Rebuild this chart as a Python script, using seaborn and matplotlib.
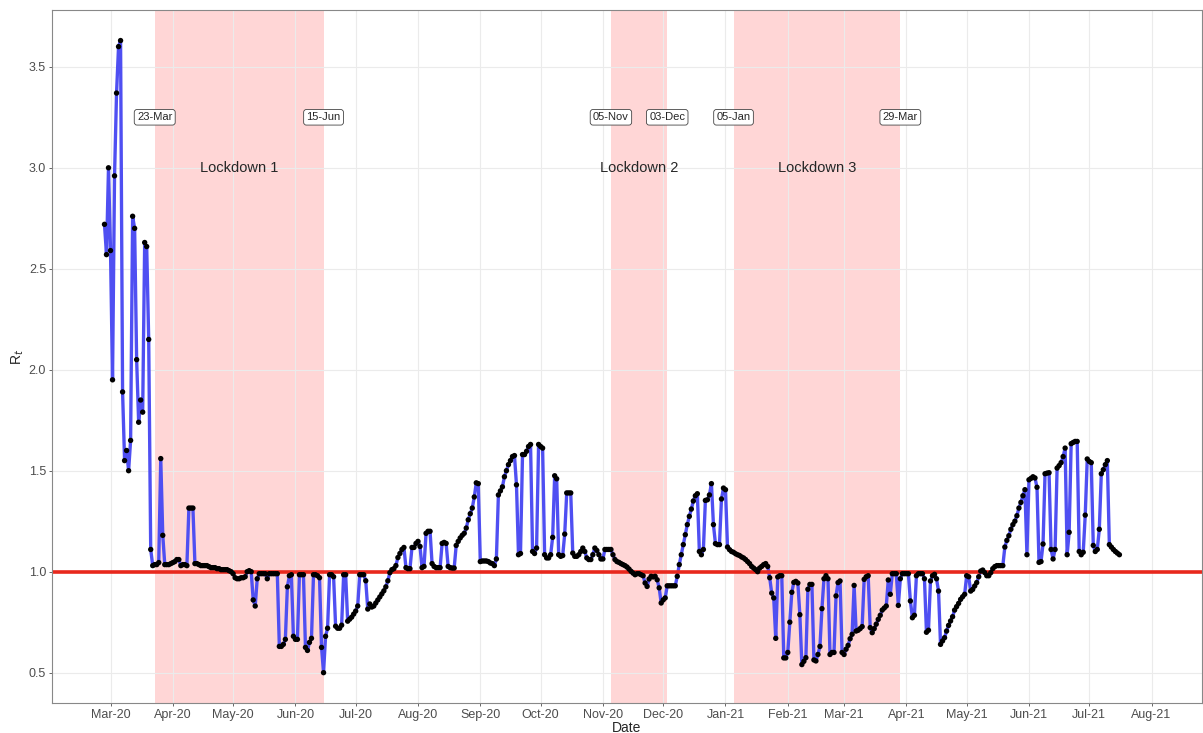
import pandas as pd
import seaborn as sns
import matplotlib.pyplot as plt
import matplotlib.dates as mdates

# daily R_t estimates (27 Feb 2020 onwards)
rt_feb_apr20 = [2.72, 2.57, 3.00, 2.59, 1.95, 2.96, 3.37, 3.60, 3.63, 1.89,
                1.55, 1.60, 1.50, 1.65, 2.76, 2.70, 2.05, 1.74, 1.85, 1.79,
                2.63, 2.61, 2.15, 1.11, 1.03, 1.035, 1.035, 1.045, 1.56, 1.18,
                1.035, 1.035, 1.035, 1.04, 1.045, 1.05, 1.06, 1.06, 1.03, 1.035,
                1.035, 1.03, 1.315, 1.315, 1.315]
rt_apr_jun20 = [1.04, 1.04, 1.035, 1.03, 1.03, 1.03, 1.03, 1.025, 1.02, 1.02,
                1.02, 1.015, 1.015, 1.01, 1.01, 1.01, 1.01, 1.005, 1.0, 0.99,
                0.97, 0.965, 0.965, 0.97, 0.97, 0.975, 1.0, 1.005, 1.0, 0.86,
                0.83, 0.965, 0.99, 0.99, 0.99, 0.99, 0.965, 0.99, 0.99, 0.99,
                0.99, 0.99, 0.63, 0.63, 0.64, 0.665, 0.925, 0.98, 0.985, 0.68]
rt_jun_jul20 = [0.665, 0.665, 0.985, 0.985, 0.985, 0.625, 0.61, 0.65, 0.67, 0.985,
                0.985, 0.98, 0.97, 0.625, 0.50, 0.68, 0.72, 0.985, 0.985, 0.975,
                0.73, 0.72, 0.72, 0.735, 0.985, 0.985, 0.755, 0.765, 0.775, 0.79,
                0.805, 0.83, 0.985, 0.985, 0.985, 0.955, 0.815, 0.84, 0.825, 0.83,
                0.845, 0.86, 0.875, 0.89, 0.905, 0.925, 0.955, 0.995, 1.01, 1.015]
rt_jul_sep20 = [1.03, 1.07, 1.09, 1.11, 1.12, 1.02, 1.015, 1.015, 1.12, 1.12,
                1.14, 1.15, 1.125, 1.02, 1.026, 1.19, 1.20, 1.20, 1.04, 1.026,
                1.02, 1.02, 1.02, 1.14, 1.145, 1.14, 1.026, 1.02, 1.018, 1.018,
                1.13, 1.15, 1.167, 1.18, 1.19, 1.216, 1.257, 1.287, 1.315, 1.37,
                1.44, 1.436, 1.05, 1.053, 1.053, 1.053, 1.05, 1.043, 1.04]
rt_sep_oct20 = [1.03, 1.063, 1.38, 1.40, 1.42, 1.47, 1.50, 1.53, 1.55, 1.57,
                1.575, 1.43, 1.084, 1.09, 1.58, 1.58, 1.596, 1.62, 1.63, 1.10,
                1.09, 1.117, 1.63, 1.62, 1.612, 1.084, 1.068, 1.068, 1.084, 1.17,
                1.475, 1.46, 1.084, 1.076, 1.08, 1.186, 1.39, 1.39, 1.39, 1.092,
                1.076, 1.076, 1.084, 1.10, 1.117, 1.10, 1.068, 1.06, 1.06, 1.084,
                1.117, 1.105, 1.084, 1.063, 1.063]
rt_nov_dec20 = [1.11, 1.11, 1.11, 1.11, 1.084, 1.06, 1.05, 1.046, 1.04, 1.035,
                1.03, 1.023, 1.013, 1.002, 0.993, 0.985, 0.99, 0.99, 0.985, 0.98,
                0.944, 0.927, 0.964, 0.977, 0.974, 0.977, 0.96, 0.92, 0.845, 0.86,
                0.87, 0.93, 0.93, 0.93, 0.93, 0.93, 0.977, 1.035, 1.084, 1.134,
                1.183, 1.233, 1.274, 1.31, 1.35, 1.376, 1.386]
rt_dec20_feb21 = [1.10, 1.084, 1.11, 1.353, 1.356, 1.38, 1.436, 1.233, 1.139, 1.134,
                  1.134, 1.36, 1.414, 1.406, 1.122, 1.109, 1.10, 1.096, 1.089, 1.084,
                  1.08, 1.073, 1.068, 1.06, 1.05, 1.04, 1.026, 1.018, 1.01, 1.0,
                  1.018, 1.026, 1.035, 1.04, 1.026, 0.97, 0.894, 0.87, 0.67, 0.974,
                  0.98, 0.98, 0.573, 0.573, 0.60, 0.75, 0.898, 0.947, 0.952, 0.944,
                  0.787, 0.54, 0.556]
rt_feb_mar21 = [0.574, 0.913, 0.937, 0.937, 0.563, 0.558, 0.59, 0.63, 0.817, 0.965,
                0.98, 0.965, 0.59, 0.60, 0.60, 0.88, 0.946, 0.954, 0.60, 0.59,
                0.616, 0.635, 0.668, 0.69, 0.932, 0.706, 0.71, 0.718, 0.728, 0.962,
                0.975, 0.98, 0.723, 0.698, 0.718, 0.74, 0.764, 0.784, 0.81, 0.82,
                0.83, 0.959, 0.888, 0.99, 0.99, 0.99]
rt_apr_may21 = [0.833, 0.965, 0.99, 0.99, 0.99, 0.99, 0.855, 0.772, 0.784, 0.98,
                0.99, 0.99, 0.99, 0.965, 0.70, 0.71, 0.954, 0.98, 0.987, 0.965,
                0.904, 0.64, 0.657, 0.673, 0.706, 0.734, 0.756, 0.777, 0.81, 0.827,
                0.843, 0.863, 0.876, 0.888, 0.98, 0.975, 0.904, 0.912, 0.929, 0.946,
                0.975, 1.003, 1.008, 0.995, 0.98, 0.98, 0.995, 1.015, 1.025, 1.03,
                1.03, 1.03, 1.03]
rt_may_jul21 = [1.122, 1.155, 1.178, 1.21, 1.233, 1.25, 1.277, 1.315, 1.343, 1.376,
                1.406, 1.084, 1.455, 1.462, 1.47, 1.464, 1.418, 1.046, 1.05, 1.137,
                1.485, 1.488, 1.49, 1.11, 1.063, 1.11, 1.513, 1.525, 1.54, 1.57,
                1.612, 1.084, 1.195, 1.634, 1.64, 1.645, 1.645, 1.10, 1.084, 1.096,
                1.28, 1.558, 1.546, 1.54, 1.13, 1.10, 1.11, 1.21, 1.485, 1.505,
                1.53, 1.55, 1.134, 1.122, 1.11, 1.10, 1.092, 1.084]

lockdown_start = ["2020-03-23", "2020-11-05", "2021-01-05"]
lockdown_end = ["2020-06-15", "2020-12-03", "2021-03-29"]
lockdown_names = ["Lockdown 1", "Lockdown 2", "Lockdown 3"]

rt = (rt_feb_apr20 + rt_apr_jun20 + rt_jun_jul20 + rt_jul_sep20 + rt_sep_oct20
      + rt_nov_dec20 + rt_dec20_feb21 + rt_feb_mar21 + rt_apr_may21 + rt_may_jul21)
df = pd.DataFrame({
    "date": pd.date_range("2020-02-27", periods=len(rt), freq="D"),
    "rt": rt,
})

sns.set_theme(style="whitegrid")
plt.rcParams["font.family"] = ["Liberation Sans", "DejaVu Sans"]

fig, ax = plt.subplots(figsize=(12.03, 7.33), dpi=100)
fig.subplots_adjust(left=0.043, right=0.999, bottom=0.041, top=0.986)

# lockdown bands
for start, end, name in zip(lockdown_start, lockdown_end, lockdown_names):
    s, e = pd.Timestamp(start), pd.Timestamp(end)
    ax.axvspan(s, e, color="#ff0000", alpha=0.16, lw=0, zorder=0.5)
    ax.text(s + (e - s) / 2, 3.0, name, ha="center", va="center", fontsize=10.5)

sns.lineplot(data=df, x="date", y="rt", color="#4f4ff2", lw=2.4, ax=ax, zorder=2)
ax.axhline(1.0, color="#e8281d", lw=2.6, zorder=2.5)
sns.scatterplot(data=df, x="date", y="rt", color="black", s=15, edgecolor="none",
                ax=ax, zorder=3)

for d in lockdown_start + lockdown_end:
    t = pd.Timestamp(d)
    ax.text(t, 3.25, t.strftime("%d-%b"), ha="center", va="center", fontsize=8,
            bbox=dict(boxstyle="round,pad=0.25", fc="white", ec="#444444", lw=0.6),
            zorder=4)

ax.set_xlim(pd.Timestamp("2020-01-31 18:00"), pd.Timestamp("2021-08-26"))
ax.set_ylim(0.35, 3.78)
ax.set_yticks([0.5, 1.0, 1.5, 2.0, 2.5, 3.0, 3.5])
ax.set_xticks(pd.date_range("2020-03-01", "2021-08-01", freq="MS"))
ax.xaxis.set_major_formatter(mdates.DateFormatter("%b-%y"))

ax.set_xlabel("Date", fontsize=10, labelpad=0)
ax.set_ylabel("R$_t$", fontsize=10, labelpad=2)
ax.tick_params(axis="both", labelsize=9, colors="#4d4d4d", length=2.5, width=0.6,
               pad=1.5, bottom=True, left=True)
ax.grid(True, color="#ebebeb", lw=0.8)
for sp in ax.spines.values():
    sp.set_color("#888888")
    sp.set_linewidth(0.8)

plt.savefig("out.png", dpi=100)
